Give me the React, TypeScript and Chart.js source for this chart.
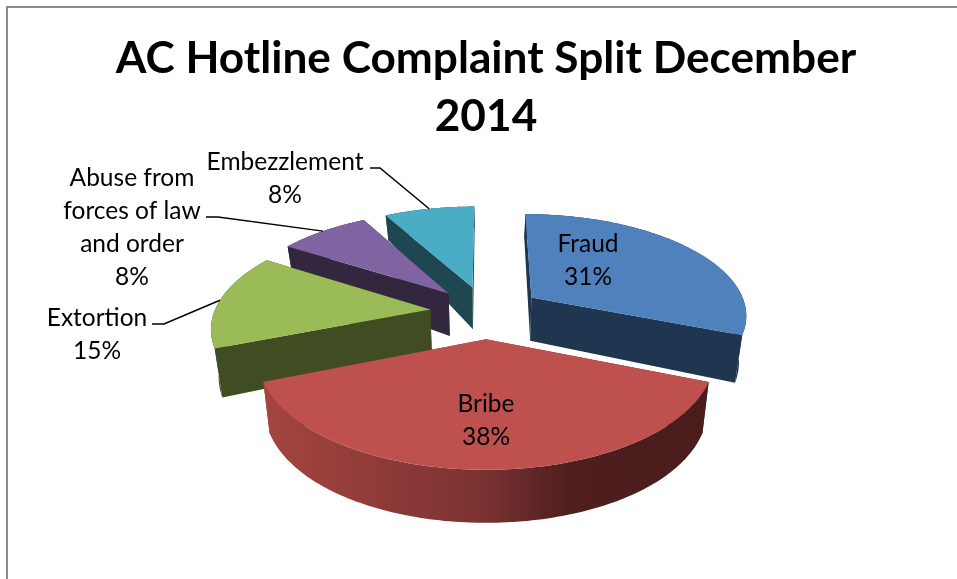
import React, { useEffect, useRef } from "react";
import { Chart, registerables } from "chart.js";

Chart.register(...registerables);

const categories = ["Fraud", "Bribe", "Extortion", "Abuse from forces of law and order", "Embezzlement"];
const values = [31, 38, 15, 8, 8];
const topColors = ["#4F81BD", "#BE504D", "#9BBB59", "#8064A2", "#4BACC6"];
const wallColors = ["#1F3550", "#4C1E1E", "#404D22", "#33263F", "#1F4751"];
const bribeWallStops: [number, string][] = [[0, "#A5453F"], [0.5, "#7A3232"], [0.68, "#4F1F1E"], [1, "#4A1C1C"]];
const titleLines = ["AC Hotline Complaint Split December", "2014"];

const drawOrder = [4, 3, 0, 2, 1];
const EXPLODE = 0.26;
const TILT = 0.466;
const PERSP = 0.156;
const BOTTOM_SCALE = 0.972;

const labelFont = '24.5px Lato';
const labelBlocks = [
  { lines: ["Fraud", "31%"], x: 588, y: 244 },
  { lines: ["Bribe", "38%"], x: 486, y: 404 },
  { lines: ["Extortion", "15%"], x: 97, y: 318 },
  { lines: ["Abuse from", "forces of law", "and order", "8%"], x: 132, y: 178 },
  { lines: ["Embezzlement", "8%"], x: 285, y: 162 },
];
// index into the data, label-side start and elbow of the leader line
const leaders = [
  { i: 4, start: [370, 168], elbow: [380, 168] },
  { i: 3, start: [206, 217], elbow: [218, 217] },
  { i: 2, start: [152, 324], elbow: [164, 324] },
];

const pie3d = {
  id: "pie3d",
  beforeDatasetDraw(chart: any) {
    const ctx = chart.ctx;
    const arcs = chart.getDatasetMeta(0).data;
    const proj = (el: any, u: number, v: number) => {
      const w = 1 / (1 - PERSP * v);
      return { x: el.x + el.outerRadius * u * w, y: el.y + el.outerRadius * TILT * v * w };
    };
    const lower = (el: any, p: { x: number; y: number }, v: number) => {
      const t = 1.25 - v;
      return { x: el.x + (p.x - el.x) * BOTTOM_SCALE, y: p.y + 53 - 5 * t * t };
    };
    const fillPoly = (pts: { x: number; y: number }[], fill: any) => {
      ctx.beginPath();
      pts.forEach((p, k) => (k ? ctx.lineTo(p.x, p.y) : ctx.moveTo(p.x, p.y)));
      ctx.closePath();
      ctx.fillStyle = fill;
      ctx.fill();
    };
    drawOrder.forEach((i) => {
      const el = arcs[i];
      const s = el.startAngle;
      const e = el.endAngle;
      const m = (s + e) / 2;
      const ou = EXPLODE * Math.cos(m);
      const ov = EXPLODE * Math.sin(m);
      const rim: { u: number; v: number }[] = [];
      const steps = 120;
      for (let k = 0; k <= steps; k++) {
        const a = s + ((e - s) * k) / steps;
        rim.push({ u: ou + Math.cos(a), v: ov + Math.sin(a) });
      }
      const up = rim.map((r) => proj(el, r.u, r.v));
      const down = rim.map((r, k) => lower(el, up[k], r.v));
      const apex = proj(el, ou, ov);
      const apexB = lower(el, apex, ov);
      let wall: any = wallColors[i];
      if (i === 1) {
        const g = ctx.createLinearGradient(Math.min(...up.map((p) => p.x)), 0, Math.max(...up.map((p) => p.x)), 0);
        bribeWallStops.forEach(([o, c]) => g.addColorStop(o, c));
        wall = g;
      }
      fillPoly([up[0], apex, apexB, down[0]], wall);
      fillPoly([up[steps], apex, apexB, down[steps]], wall);
      fillPoly([...up, ...down.slice().reverse()], wall);
      fillPoly([apex, ...up], topColors[i]);
    });
    return false;
  },
  afterDatasetsDraw(chart: any) {
    const ctx = chart.ctx;
    const arcs = chart.getDatasetMeta(0).data;
    ctx.save();
    ctx.strokeStyle = "#000";
    ctx.lineWidth = 1.5;
    leaders.forEach(({ i, start, elbow }) => {
      const el = arcs[i];
      const m = (el.startAngle + el.endAngle) / 2;
      const u = (1 + EXPLODE) * Math.cos(m);
      const v = (1 + EXPLODE) * Math.sin(m);
      const w = 1 / (1 - PERSP * v);
      ctx.beginPath();
      ctx.moveTo(start[0], start[1]);
      ctx.lineTo(elbow[0], elbow[1]);
      ctx.lineTo(el.x + el.outerRadius * u * w, el.y + el.outerRadius * TILT * v * w);
      ctx.stroke();
    });
    ctx.fillStyle = "#000";
    ctx.font = labelFont;
    ctx.textAlign = "center";
    ctx.textBaseline = "middle";
    labelBlocks.forEach((b) => {
      b.lines.forEach((t, k) => ctx.fillText(t, b.x, b.y + k * 32.9));
    });
    ctx.restore();
  },
};

export default function App() {
  const ref = useRef<HTMLCanvasElement>(null);
  useEffect(() => {
    const chart = new Chart(ref.current as HTMLCanvasElement, {
      type: "pie",
      data: {
        labels: categories,
        datasets: [{ data: values, backgroundColor: topColors, borderWidth: 0 }],
      },
      options: {
        animation: false,
        responsive: false,
        radius: 216,
        layout: { padding: { left: 15, right: 0, top: 30, bottom: 101 } },
        plugins: {
          legend: { display: false },
          tooltip: { enabled: false },
          title: {
            display: true,
            text: titleLines,
            color: "#000",
            align: "center",
            font: { family: "Lato", weight: "bold", size: 44.2, lineHeight: 1.312 },
            padding: { top: 0, bottom: 0 },
          },
        },
      } as any,
      plugins: [pie3d as any],
    });
    return () => chart.destroy();
  }, []);
  return (
    <div style={{ position: "absolute", left: 0, top: 0, width: 957, height: 579, overflow: "hidden", background: "#fff" }}>
      <canvas ref={ref} width={957} height={579} style={{ display: "block" }} />
      <div style={{ position: "absolute", left: 6, top: 6, right: 0, bottom: 0, borderTop: "2px solid #8a8a8a", borderLeft: "2px solid #8a8a8a" }} />
    </div>
  );
}
